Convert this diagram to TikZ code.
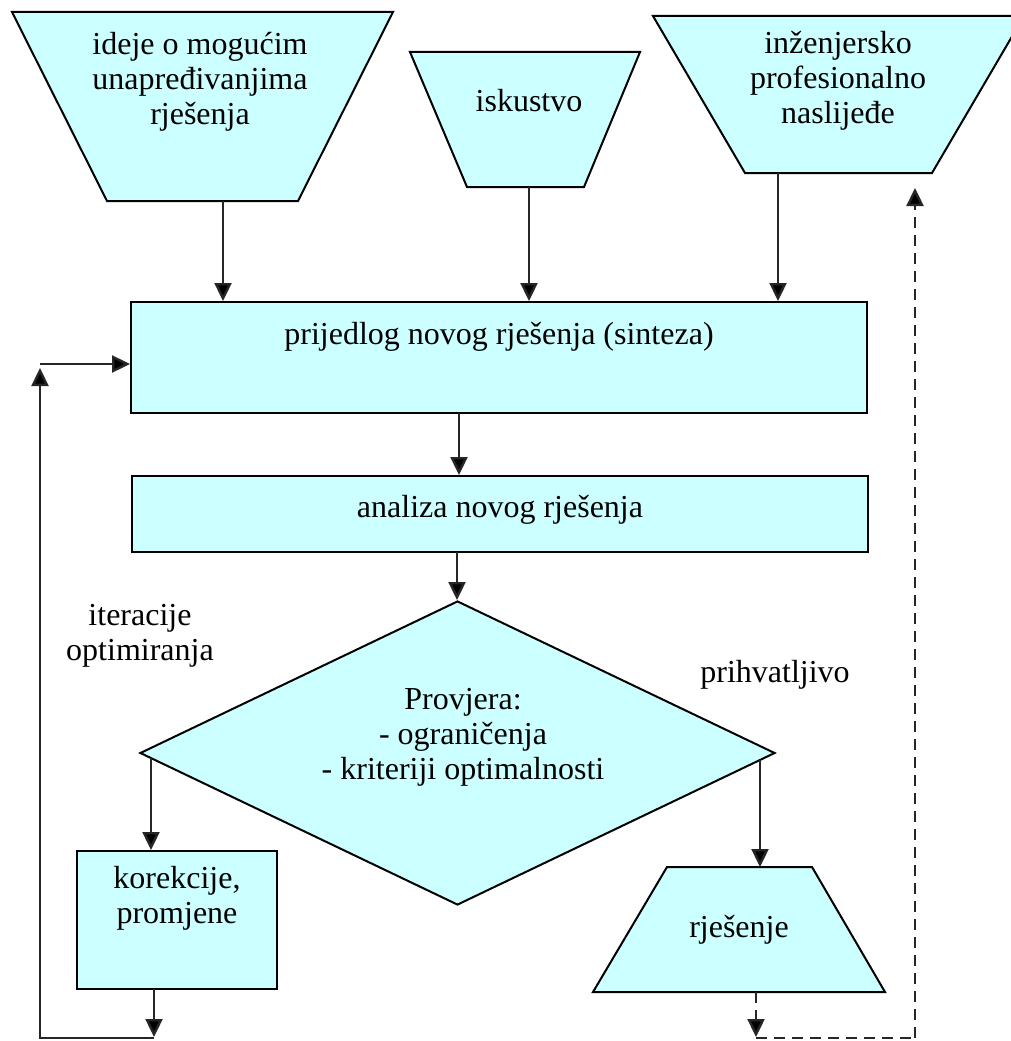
\documentclass[tikz,border=0pt]{standalone}
\usepackage{fontspec}
\setmainfont{Liberation Serif}
\usetikzlibrary{arrows.meta,shapes.geometric}
\definecolor{boxfill}{RGB}{204,255,255}
\begin{document}
\begin{tikzpicture}[x=1pt,y=-1pt,
  shapebox/.style={draw=black, line width=2pt, fill=boxfill},
  lbl/.style={inner sep=0pt, align=center, font=\fontsize{32}{35}\selectfont},
  arr/.style={draw=black!85, line width=2.4pt, -{Triangle[length=18pt,width=17pt,fill=black]}},
  darr/.style={arr, dash pattern=on 11pt off 7pt},
  dline/.style={draw=black!85, line width=2.4pt, dash pattern=on 11pt off 7pt}]
\useasboundingbox (0,0) rectangle (1011,1041);

% input trapezoids
\filldraw[shapebox] (12,12) -- (393,12) -- (298,201) -- (107,201) -- cycle;
\node[lbl] (t1) at (200,82) {ideje o mogućim\\unapređivanjima\\rješenja};
\filldraw[shapebox] (410,52) -- (640,52) -- (584,187) -- (467,187) -- cycle;
\node[lbl] (t2) at (529,101) {iskustvo};
\filldraw[shapebox] (653,16) -- (1024,16) -- (932,173) -- (745,173) -- cycle;
\node[lbl] (t3) at (838,81) {inženjersko\\profesionalno\\naslijeđe};

% main boxes
\node[shapebox, rectangle, minimum width=736pt, minimum height=111pt, inner sep=0pt] (synth) at (499,357.5) {};
\node[lbl] (synthtxt) at (499,336.5) {prijedlog novog rješenja (sinteza)};
\node[shapebox, rectangle, minimum width=736pt, minimum height=76pt, inner sep=0pt] (ana) at (500,514) {};
\node[lbl] (anatxt) at (500,509.5) {analiza novog rješenja};

% decision
\node[shapebox, diamond, minimum width=635pt, minimum height=304pt, inner sep=0pt] (dia) at (457.5,753) {};
\node[lbl] (diatxt) at (463,737) {Provjera:\\- ograničenja\\- kriteriji optimalnosti};

% correction box
\node[shapebox, rectangle, minimum width=200pt, minimum height=138pt, inner sep=0pt] (kor) at (177,920) {};
\node[lbl] (kortxt) at (177,898.5) {korekcije,\\promjene};

% result trapezoid
\filldraw[shapebox] (667,867) -- (812,867) -- (885,992) -- (593,992) -- cycle;
\node[lbl] (rj) at (739,930) {rješenje};

% free labels
\node[lbl] (iter) at (140,636) {iteracije\\optimiranja};
\node[lbl] (prih) at (775,674.5) {prihvatljivo};

% coordinates for connector ends
\coordinate (t1b) at (223,201);
\coordinate (t2b) at (529,187);
\coordinate (t3b) at (778,173);
\coordinate (sb) at (459,413);
\coordinate (ab) at (457,552);
\coordinate (dL) at (151,758);
\coordinate (dR) at (760,760);
\coordinate (rjt) at (760,867);
\coordinate (rjb) at (756,992);
\coordinate (kb) at (154,989);
\coordinate (lb1) at (154,1038);
\coordinate (lb2) at (40,1038);
\coordinate (lt) at (40,364);
\coordinate (db1) at (756,1038);
\coordinate (db2) at (915,1038);
\coordinate (t3tip) at (915,188);

% connectors
\draw[arr] (t1b) -- (t1b |- synth.north);
\draw[arr] (t2b) -- (t2b |- synth.north);
\draw[arr] (t3b) -- (t3b |- synth.north);
\draw[arr] (sb) -- (sb |- ana.north);
\draw[arr] (ab) -- (ab |- dia.north);
\draw[arr] (dL) -- (dL |- kor.north);
\draw[arr] (dR) -- (rjt);
\draw[arr] (kb) -- ([yshift=1pt]lb1);
\draw[arr] (lb1) -- (lb2) -- ([yshift=-4pt]lt);
\draw[arr] (lt) -- (lt -| synth.west);
\draw[darr] (rjb) -- ([yshift=1pt]db1);
\draw[dline] (db1) -- (db2);
\draw[darr] (db2) -- (t3tip);
\end{tikzpicture}
\end{document}
